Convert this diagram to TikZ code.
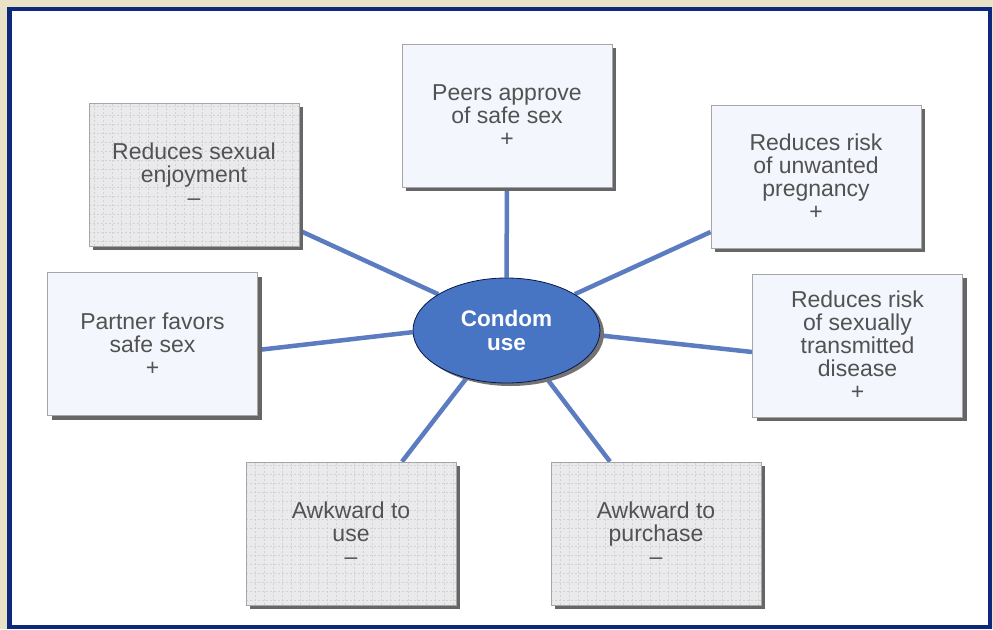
\documentclass[tikz,border=0pt]{standalone}
\usepackage{fontspec}
\setmainfont{Liberation Sans}
\usetikzlibrary{shapes.geometric, shadows, backgrounds}
\definecolor{sand}{RGB}{234,226,198}
\definecolor{navy}{RGB}{14,40,124}
\definecolor{hubblue}{RGB}{72,116,196}
\definecolor{linkblue}{RGB}{92,124,194}
\definecolor{txtgray}{RGB}{82,82,82}
\definecolor{profill}{RGB}{243,246,252}
\definecolor{confill}{RGB}{234,234,237}

\begin{document}
\begin{tikzpicture}[x=1pt,y=-1pt,
  factor/.style={draw=gray!70, line width=0.8pt, minimum width=210pt, minimum height=143pt, inner sep=0pt,
    align=center, text=txtgray, font=\fontsize{23}{23}\selectfont,
    drop shadow={shadow xshift=4pt, shadow yshift=-4pt, fill=black!60, opacity=1}},
  pro/.style={factor, fill=profill},
  con/.style={factor, fill=confill, path picture={
    \draw[gray!35, dash pattern=on 2pt off 2pt] (path picture bounding box.south west) grid[step=9pt] (path picture bounding box.north east);}},
  link/.style={linkblue, line width=4.5pt}]
\useasboundingbox (0,0) rectangle (993,629);

\node[pro] (peers) at (507,115.5) {Peers approve\\of safe sex\\+};
\node[con] (enjoy) at (194,174.5) {Reduces sexual\\enjoyment\\\textendash};
\node[pro] (preg) at (816,176.5) {Reduces risk\\of unwanted\\pregnancy\\+};
\node[pro] (partner) at (152.5,344) {Partner favors\\safe sex\\+};
\node[pro] (std) at (857.5,345.5) {Reduces risk\\of sexually\\transmitted\\disease\\+};
\node[con] (awkuse) at (351,533.5) {Awkward to\\use\\\textendash};
\node[con] (awkbuy) at (656,533.5) {Awkward to\\purchase\\\textendash};

\node[ellipse, fill=hubblue, draw=navy!60!black, line width=0.8pt, minimum width=187pt, minimum height=105pt, inner sep=0pt,
  text=white, align=center, font=\bfseries\fontsize{22.5}{24}\selectfont,
  drop shadow={shadow xshift=4pt, shadow yshift=-3pt, fill=black!55, opacity=1}] (condom) at (506.5,330.5) {Condom\\use};

\begin{scope}[on background layer]
\fill[sand] (0,0) rectangle (993,629);
\draw[navy, line width=4.5pt, fill=white] (9.5,9) rectangle (990,627);
\draw[link] (condom.90) -- (peers.south);
\draw[link] (condom.152) -- ([yshift=-56pt]enjoy.east);
\draw[link] (condom.28) -- ([yshift=-55.5pt]preg.west);
\draw[link] (condom.181.5) -- ([yshift=-6pt]partner.east);
\draw[link] (condom.357) -- ([yshift=-6.5pt]std.west);
\draw[link] (condom.230.5) -- ([xshift=51pt]awkuse.north);
\draw[link] (condom.310) -- ([xshift=-46pt]awkbuy.north);
\end{scope}
\end{tikzpicture}
\end{document}
